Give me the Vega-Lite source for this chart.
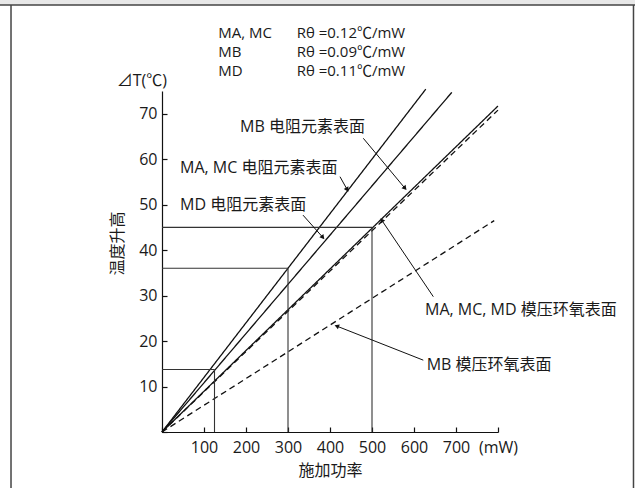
{
  "$schema": "https://vega.github.io/schema/vega-lite/v6.json",
  "width": 336,
  "height": 341,
  "autosize": {"type": "none"},
  "padding": {"left": 162, "top": 91, "right": 137, "bottom": 56},
  "background": "white",
  "config": {
    "view": {"stroke": null},
    "font": "'Open Sans', 'Noto Sans CJK SC'",
    "text": {"font": "'Open Sans', 'Noto Sans CJK SC'", "fontSize": 16, "color": "#1a1a1a"},
    "axis": {
      "labelFont": "'Open Sans', 'Noto Sans CJK SC'",
      "titleFont": "'Open Sans', 'Noto Sans CJK SC'",
      "labelFontSize": 16,
      "titleFontSize": 16,
      "titleFontWeight": "normal",
      "labelColor": "#1a1a1a",
      "titleColor": "#1a1a1a",
      "domainColor": "#111",
      "tickColor": "#111",
      "domainWidth": 1.2,
      "tickWidth": 1.2,
      "labelOverlap": false,
      "labelFlush": false,
      "grid": false
    }
  },
  "datasets": {
    "curves": [
      {"series": "MA, MC", "surface": "电阻元素表面", "x": 0, "y": 0},
      {"series": "MA, MC", "surface": "电阻元素表面", "x": 628, "y": 75.4},
      {"series": "MD", "surface": "电阻元素表面", "x": 0, "y": 0},
      {"series": "MD", "surface": "电阻元素表面", "x": 690, "y": 74.7},
      {"series": "MB", "surface": "电阻元素表面", "x": 0, "y": 0},
      {"series": "MB", "surface": "电阻元素表面", "x": 800, "y": 71.7},
      {"series": "MA, MC, MD", "surface": "模压环氧表面", "x": 0, "y": 0},
      {"series": "MA, MC, MD", "surface": "模压环氧表面", "x": 800, "y": 70.8},
      {"series": "MB", "surface": "模压环氧表面", "x": 0, "y": 0},
      {"series": "MB", "surface": "模压环氧表面", "x": 791, "y": 46.5}
    ],
    "guides": [
      {"x": 125, "y": 13.75},
      {"x": 300, "y": 36},
      {"x": 500, "y": 45}
    ],
    "leaders": [
      {"id": 1, "x": 479.3, "y": 64.6, "x2": 578.6, "y2": 53.6},
      {"id": 2, "x": 423.8, "y": 56.15, "x2": 441, "y2": 53.3},
      {"id": 3, "x": 335.7, "y": 47.7, "x2": 383, "y2": 42.8},
      {"id": 4, "x": 646, "y": 29.76, "x2": 523.1, "y2": 46.6},
      {"id": 5, "x": 622.1, "y": 15.8, "x2": 416, "y2": 23.3}
    ],
    "labels": [
      {"text": "MB 电阻元素表面", "x": 185.7, "y": 67.0},
      {"text": "MA, MC 电阻元素表面", "x": 42.9, "y": 58.0},
      {"text": "MD 电阻元素表面", "x": 42.9, "y": 49.9},
      {"text": "MA, MC, MD 模压环氧表面", "x": 626.2, "y": 26.8},
      {"text": "MB 模压环氧表面", "x": 630.2, "y": 14.7}
    ],
    "rtheta": [
      {"model": "MA, MC", "value": "Rθ =0.12℃/mW", "y": 87.76},
      {"model": "MB", "value": "Rθ =0.09℃/mW", "y": 83.58},
      {"model": "MD", "value": "Rθ =0.11℃/mW", "y": 79.4}
    ]
  },
  "layer": [
    {
      "data": {"values": [{}]},
      "mark": {"type": "rect", "fill": "#e8e8e8"},
      "encoding": {
        "x": {"datum": -390, "type": "quantitative"},
        "x2": {"datum": 1130},
        "y": {"datum": 93.9, "type": "quantitative"},
        "y2": {"datum": 96}
      }
    },
    {
      "data": {"values": [{}]},
      "mark": {"type": "rule", "color": "#444", "strokeWidth": 1.5},
      "encoding": {
        "x": {"datum": -390, "type": "quantitative"},
        "x2": {"datum": 1130},
        "y": {"datum": 93.9, "type": "quantitative"}
      }
    },
    {
      "data": {"values": [{}]},
      "mark": {"type": "rule", "color": "#444", "strokeWidth": 1.5},
      "encoding": {
        "x": {"datum": -359.5, "type": "quantitative"},
        "y": {"datum": -13, "type": "quantitative"},
        "y2": {"datum": 93.9}
      }
    },
    {
      "data": {"values": [{}]},
      "mark": {"type": "rule", "color": "#444", "strokeWidth": 1.5},
      "encoding": {
        "x": {"datum": 1122.6, "type": "quantitative"},
        "y": {"datum": -13, "type": "quantitative"},
        "y2": {"datum": 93.9}
      }
    },
    {
      "data": {"name": "curves"},
      "mark": {"type": "line", "color": "#111", "strokeWidth": 1.3},
      "encoding": {
        "x": {
          "field": "x",
          "type": "quantitative",
          "scale": {"domain": [0, 800], "nice": false, "zero": false},
          "axis": {
            "values": [0, 100, 200, 300, 400, 500, 600, 700, 800],
            "labelExpr": "datum.value == 800 ? '(mW)' : (datum.value == 0 ? '' : datum.label)",
            "tickSize": -5,
            "labelPadding": 12,
            "title": "施加功率",
            "titleY": 38,
            "titleBaseline": "middle"
          }
        },
        "y": {
          "field": "y",
          "type": "quantitative",
          "scale": {"domain": [0, 75], "nice": false, "zero": false},
          "axis": {
            "values": [0, 10, 20, 30, 40, 50, 60, 70],
            "labelExpr": "datum.value == 0 ? '' : datum.label",
            "tickSize": -5,
            "labelPadding": 10,
            "title": "温度升高",
            "titleX": -45,
            "titleY": 152,
            "titleAngle": -90,
            "titleAlign": "center",
            "titleBaseline": "middle"
          }
        },
        "detail": {"field": "series", "type": "nominal"},
        "strokeDash": {
          "field": "surface",
          "type": "nominal",
          "scale": {"domain": ["电阻元素表面", "模压环氧表面"], "range": [[1, 0], [6, 4]]},
          "legend": null
        }
      }
    },
    {
      "data": {"name": "guides"},
      "mark": {"type": "rule", "color": "#333", "strokeWidth": 1.1},
      "encoding": {
        "x": {"field": "x", "type": "quantitative"},
        "x2": {"datum": 0},
        "y": {"field": "y", "type": "quantitative"}
      }
    },
    {
      "data": {"name": "guides"},
      "mark": {"type": "rule", "color": "#333", "strokeWidth": 1.1},
      "encoding": {
        "x": {"field": "x", "type": "quantitative"},
        "y": {"field": "y", "type": "quantitative"},
        "y2": {"datum": 0}
      }
    },
    {
      "data": {"name": "leaders"},
      "mark": {"type": "rule", "color": "#111", "strokeWidth": 1},
      "encoding": {
        "x": {"field": "x", "type": "quantitative"},
        "y": {"field": "y", "type": "quantitative"},
        "x2": {"field": "x2"},
        "y2": {"field": "y2"}
      }
    },
    {
      "data": {"name": "leaders"},
      "transform": [{"filter": "datum.id == 1"}],
      "mark": {"type": "point", "shape": "triangle-up", "filled": true, "color": "#111", "size": 28, "opacity": 1, "angle": 140},
      "encoding": {"x": {"field": "x2", "type": "quantitative"}, "y": {"field": "y2", "type": "quantitative"}}
    },
    {
      "data": {"name": "leaders"},
      "transform": [{"filter": "datum.id == 2"}],
      "mark": {"type": "point", "shape": "triangle-up", "filled": true, "color": "#111", "size": 28, "opacity": 1, "angle": 150},
      "encoding": {"x": {"field": "x2", "type": "quantitative"}, "y": {"field": "y2", "type": "quantitative"}}
    },
    {
      "data": {"name": "leaders"},
      "transform": [{"filter": "datum.id == 3"}],
      "mark": {"type": "point", "shape": "triangle-up", "filled": true, "color": "#111", "size": 28, "opacity": 1, "angle": 140},
      "encoding": {"x": {"field": "x2", "type": "quantitative"}, "y": {"field": "y2", "type": "quantitative"}}
    },
    {
      "data": {"name": "leaders"},
      "transform": [{"filter": "datum.id == 4"}],
      "mark": {"type": "point", "shape": "triangle-up", "filled": true, "color": "#111", "size": 28, "opacity": 1, "angle": 326},
      "encoding": {"x": {"field": "x2", "type": "quantitative"}, "y": {"field": "y2", "type": "quantitative"}}
    },
    {
      "data": {"name": "leaders"},
      "transform": [{"filter": "datum.id == 5"}],
      "mark": {"type": "point", "shape": "triangle-up", "filled": true, "color": "#111", "size": 28, "opacity": 1, "angle": 291},
      "encoding": {"x": {"field": "x2", "type": "quantitative"}, "y": {"field": "y2", "type": "quantitative"}}
    },
    {
      "data": {"name": "labels"},
      "mark": {"type": "text", "align": "left", "baseline": "middle"},
      "encoding": {
        "x": {"field": "x", "type": "quantitative"},
        "y": {"field": "y", "type": "quantitative"},
        "text": {"field": "text", "type": "nominal"}
      }
    },
    {
      "data": {"name": "rtheta"},
      "mark": {"type": "text", "align": "left", "baseline": "middle", "fontSize": 15},
      "encoding": {
        "x": {"datum": 134, "type": "quantitative"},
        "y": {"field": "y", "type": "quantitative"},
        "text": {"field": "model", "type": "nominal"}
      }
    },
    {
      "data": {"name": "rtheta"},
      "mark": {"type": "text", "align": "left", "baseline": "middle", "fontSize": 15},
      "encoding": {
        "x": {"datum": 320.7, "type": "quantitative"},
        "y": {"field": "y", "type": "quantitative"},
        "text": {"field": "value", "type": "nominal"}
      }
    },
    {
      "data": {"values": [{"text": "⊿T(℃)"}]},
      "mark": {"type": "text", "align": "right", "baseline": "middle"},
      "encoding": {
        "x": {"datum": 12, "type": "quantitative"},
        "y": {"datum": 77.1, "type": "quantitative"},
        "text": {"field": "text", "type": "nominal"}
      }
    }
  ]
}
